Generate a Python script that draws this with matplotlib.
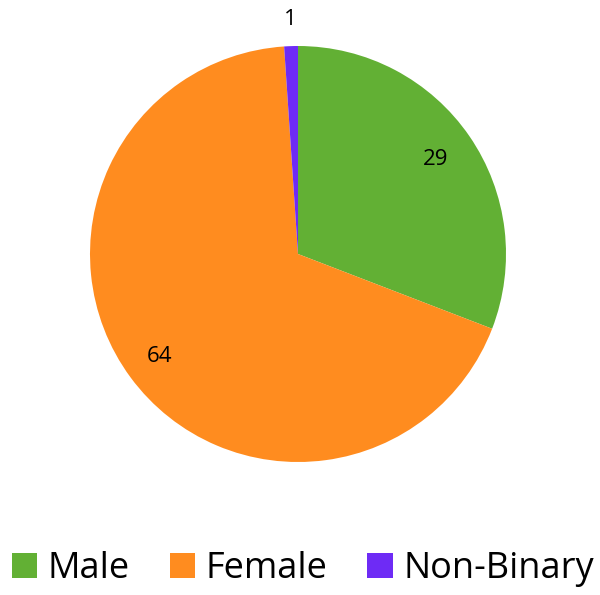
import numpy as np
import matplotlib
matplotlib.use("Agg")
import matplotlib.pyplot as plt
from matplotlib.patches import Patch

labels = ["Male", "Female", "Non-Binary"]
values = [29, 64, 1]
colors = ["#62B034", "#FF8C1F", "#6E2BF5"]
label_r = [0.8, 0.83, 1.13]

plt.rcParams['font.family'] = ['Open Sans', 'DejaVu Sans']

fig = plt.figure(figsize=(6, 5.95), dpi=100)
ax = fig.add_axes([90/600, (595-462)/595, 416/600, 416/595])

wedges, _ = ax.pie(values, colors=colors, startangle=90, counterclock=False,
                   wedgeprops=dict(linewidth=0))
ax.set_xlim(-1, 1)
ax.set_ylim(-1, 1)
ax.set_aspect('equal')
for w in wedges:
    w.set_clip_on(False)

for w, v, r in zip(wedges, values, label_r):
    a = np.deg2rad((w.theta1 + w.theta2) / 2)
    ax.text(r*np.cos(a), r*np.sin(a), str(v), ha='center', va='center',
            fontsize=16, color='black')

handles = [Patch(facecolor=c, edgecolor='none') for c in colors]
fig.legend(handles, labels, loc='center', bbox_to_anchor=(0.505, 0.043), ncol=3,
           frameon=False, fontsize=26, handlelength=0.7, handleheight=0.7,
           handletextpad=0.3, columnspacing=1.1)

fig.savefig("out.png", dpi=100)
